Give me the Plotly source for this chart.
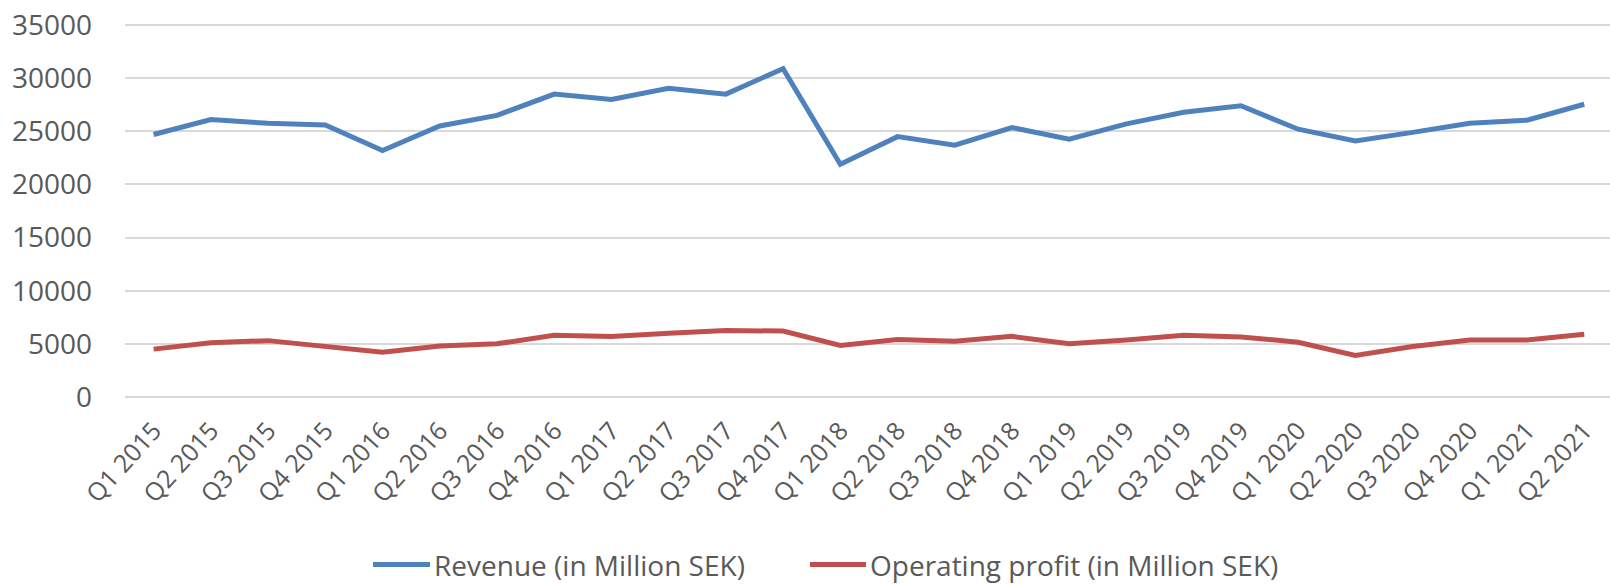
import plotly.graph_objects as go

quarters = ["Q1 2015", "Q2 2015", "Q3 2015", "Q4 2015",
            "Q1 2016", "Q2 2016", "Q3 2016", "Q4 2016",
            "Q1 2017", "Q2 2017", "Q3 2017", "Q4 2017",
            "Q1 2018", "Q2 2018", "Q3 2018", "Q4 2018",
            "Q1 2019", "Q2 2019", "Q3 2019", "Q4 2019",
            "Q1 2020", "Q2 2020", "Q3 2020", "Q4 2020",
            "Q1 2021", "Q2 2021"]

revenue = [24700, 26100, 25750, 25600,
           23200, 25500, 26500, 28500,
           28000, 29050, 28500, 30900,
           21900, 24500, 23700, 25350,
           24250, 25700, 26800, 27400,
           25200, 24100, 24900, 25750,
           26050, 27550]

operating_profit = [4500, 5100, 5300, 4800,
                    4200, 4800, 5000, 5800,
                    5700, 6000, 6250, 6200,
                    4850, 5400, 5250, 5700,
                    5000, 5350, 5800, 5650,
                    5150, 3900, 4750, 5350,
                    5350, 5900]

y_ticks = [0, 5000, 10000, 15000, 20000, 25000, 30000, 35000]

series_names = ["Revenue (in Million SEK)", "Operating profit (in Million SEK)"]
series_colors = ["#4F81BD", "#C0504D"]

FONT = "Open Sans"
GREY = "#595959"

W, H = 1610, 584
ML, MR, MT, MB = 125, 0, 24, 186
PW = W - ML - MR
PH = H - MT - MB


def px_to_paper_x(px):
    return (px - ML) / PW


def px_to_paper_y(py):
    return (H - MB - py) / PH


fig = go.Figure()
for name, vals, col in zip(series_names, [revenue, operating_profit], series_colors):
    fig.add_trace(go.Scatter(
        x=quarters, y=vals, mode="lines", name=name,
        line=dict(color=col, width=5),
        showlegend=False,
    ))

# custom legend (longer line samples like the original)
legend_y = px_to_paper_y(564.5)
legend_items = [(373, 430, 433), (810, 866, 869)]
for (x0, x1, xt), name, col in zip(legend_items, series_names, series_colors):
    fig.add_shape(type="line", xref="paper", yref="paper",
                  x0=px_to_paper_x(x0), x1=px_to_paper_x(x1),
                  y0=legend_y, y1=legend_y,
                  line=dict(color=col, width=5))
    fig.add_annotation(xref="paper", yref="paper",
                       x=px_to_paper_x(xt), y=legend_y,
                       xanchor="left", yanchor="middle",
                       text=name, showarrow=False, borderpad=0,
                       font=dict(family=FONT, size=28, color=GREY))

fig.update_layout(
    width=W, height=H,
    margin=dict(l=ML, r=MR, t=MT, b=MB),
    paper_bgcolor="white", plot_bgcolor="white",
    font=dict(family=FONT, size=28, color=GREY),
    showlegend=False,
)

fig.update_xaxes(
    type="category",
    range=[-0.5, 25.45],
    tickangle=-48,
    showgrid=False,
    showline=False,
    zeroline=False,
    ticks="",
    ticklabelstandoff=12,
    tickfont=dict(family=FONT, size=25, color=GREY),
)

fig.update_yaxes(
    range=[-100, 35100],
    tickvals=y_ticks,
    ticktext=[str(v) for v in y_ticks],
    showgrid=True,
    gridcolor="#D9D9D9",
    gridwidth=1.5,
    zeroline=False,
    showline=False,
    ticks="",
    ticklabelstandoff=32,
    tickfont=dict(family=FONT, size=28, color=GREY),
)

fig.write_html(
    "out.html",
    config={"displayModeBar": False},
    post_script="document.body.style.margin='0';document.body.style.overflow='hidden';",
)
